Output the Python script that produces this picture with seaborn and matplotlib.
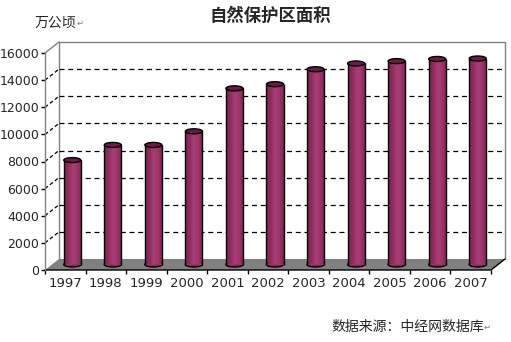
import numpy as np
import pandas as pd
import matplotlib
matplotlib.use("Agg")
import matplotlib.pyplot as plt
import seaborn as sns
from matplotlib.patches import Ellipse, Polygon
from matplotlib.transforms import ScaledTranslation
from matplotlib.colors import LinearSegmentedColormap

# Nature reserve area, 10k hectares
years = ["1997", "1998", "1999", "2000", "2001", "2002",
         "2003", "2004", "2005", "2006", "2007"]
area = [7698, 8815, 8815, 9821, 12989, 13295, 14398, 14823, 14995, 15154, 15188]
yticks = [0, 2000, 4000, 6000, 8000, 10000, 12000, 14000, 16000]

title = "自然保护区面积"
unit = "万公顷"
source = "数据来源：中经网数据库"

sns.set_style("white")
plt.rcParams["font.family"] = ["DejaVu Sans"]
cjk = ["Noto Sans CJK SC", "DejaVu Sans"]

W, H, DPI = 511, 342, 100
fig = plt.figure(figsize=(W / DPI, H / DPI), dpi=DPI)
fig.patch.set_facecolor("white")

# front plane of the 3-D box
x0, x1, ybot, ytop = 45, 491, 270, 53
ax = fig.add_axes([x0 / W, 1 - ybot / H, (x1 - x0) / W, (ybot - ytop) / H])
ax.set_facecolor("none")

df = pd.DataFrame({"year": years, "area": area})
sns.barplot(data=df, x="year", y="area", color="#993366", width=0.42,
            linewidth=0, saturation=1, ax=ax, zorder=3)

ax.set_xlim(-0.5, 10.5)
ax.set_ylim(0, 16000)

# depth offsets of the box (pixels)
DX, DY = 14, 11
px_x = (x1 - x0) / 11.0
px_y = (ybot - ytop) / 16000.0
ddx, ddy = DX / px_x, DY / px_y            # full depth in data units
mid = ax.transData + ScaledTranslation(DX / 2 / DPI, DY / 2 / DPI, fig.dpi_scale_trans)

wall_col = "#808080"
# floor
floor = Polygon([(-0.5, 0), (10.5, 0), (10.5 + ddx, ddy), (-0.5 + ddx, ddy)],
                closed=True, facecolor="#808080", edgecolor="none",
                clip_on=False, zorder=1)
ax.add_patch(floor)
ax.plot([-0.5, 10.5, 10.5 + ddx], [0, 0, ddy], color="black", lw=1,
        clip_on=False, zorder=2)

# back wall outline
bx0, bx1 = -0.5 + ddx, 10.5 + ddx
ax.plot([bx0, bx0, bx1, bx1], [ddy, 16000 + ddy, 16000 + ddy, ddy],
        color=wall_col, lw=1, clip_on=False, zorder=1)
ax.plot([-0.5, bx0], [16000, 16000 + ddy], color=wall_col, lw=1,
        clip_on=False, zorder=1)

# dashed gridlines on the back wall and side slants
for v in yticks[1:-1]:
    ax.plot([bx0, bx1], [v + ddy, v + ddy], color="black", lw=0.9,
            dashes=(4, 3), clip_on=False, zorder=1)
    ax.plot([-0.5, bx0], [v, v + ddy], color="black", lw=0.9,
            dashes=(3, 2), clip_on=False, zorder=1)

# cylinders: shaded body, caps and outlines
cmap = LinearSegmentedColormap.from_list(
    "plum", ["#7c2350", "#8e2d5f", "#a83f75", "#9c3569", "#7e2552"])
grad = np.linspace(0, 1, 64).reshape(1, -1)
bw = 0.42
cap_h = 5 / px_y
for i, p in enumerate(ax.patches[:len(years)]):
    p.set_transform(mid)
    xl = p.get_x()
    h = p.get_height()
    im = ax.imshow(grad, cmap=cmap, extent=(xl, xl + bw, 0, h),
                   aspect="auto", transform=mid, zorder=3.5, interpolation="bilinear")
    im.set_clip_path(p)
    ax.add_patch(Ellipse((xl + bw / 2, 0), bw, cap_h, transform=mid,
                         facecolor="#86295a", edgecolor="black", lw=1, zorder=2.5))
    ax.vlines([xl, xl + bw], 0, h, colors="black", lw=1, transform=mid, zorder=4)
    ax.add_patch(Ellipse((xl + bw / 2, h), bw, cap_h, transform=mid,
                         facecolor="#6a1c45", edgecolor="black", lw=1, zorder=5))

ax.set_xlim(-0.5, 10.5)
ax.set_ylim(0, 16000)

# axes, ticks and labels
for s in ["top", "right", "bottom"]:
    ax.spines[s].set_visible(False)
ax.spines["left"].set_color(wall_col)
ax.spines["left"].set_linewidth(1)
ax.set_yticks(yticks)
ax.set_yticklabels([str(v) for v in yticks])
ax.set_xticks(range(len(years)))
ax.set_xticklabels(years)
ax.set_xticks(np.arange(-0.5, 11, 1.0), minor=True)
ax.tick_params(axis="y", length=3, width=1, color="black", pad=1,
               labelsize=9, left=True)
ax.tick_params(axis="x", which="major", length=0, pad=5, labelsize=9.5)
ax.tick_params(axis="x", which="minor", length=3, width=1, color="black",
               bottom=True)
ax.set_xlabel("")
ax.set_ylabel("")

fig.text(270 / W, 1 - 16 / H, title, ha="center", va="center",
         fontsize=12.5, fontweight="bold", family=cjk)
t = fig.text(35 / W, 1 - 23 / H, unit, ha="left", va="center",
             fontsize=10, family=cjk)
ax.annotate("↵", xy=(1, 0.15), xycoords=t, ha="left", va="bottom",
            fontsize=6, color="#808080", family=["DejaVu Sans"])
s = fig.text(331 / W, 1 - 327 / H, source, ha="left", va="center",
             fontsize=10, style="italic", family=cjk)
ax.annotate("↵", xy=(1, 0.15), xycoords=s, ha="left", va="bottom",
            fontsize=6, color="#808080", family=["DejaVu Sans"])

fig.savefig("out.png", dpi=DPI)
